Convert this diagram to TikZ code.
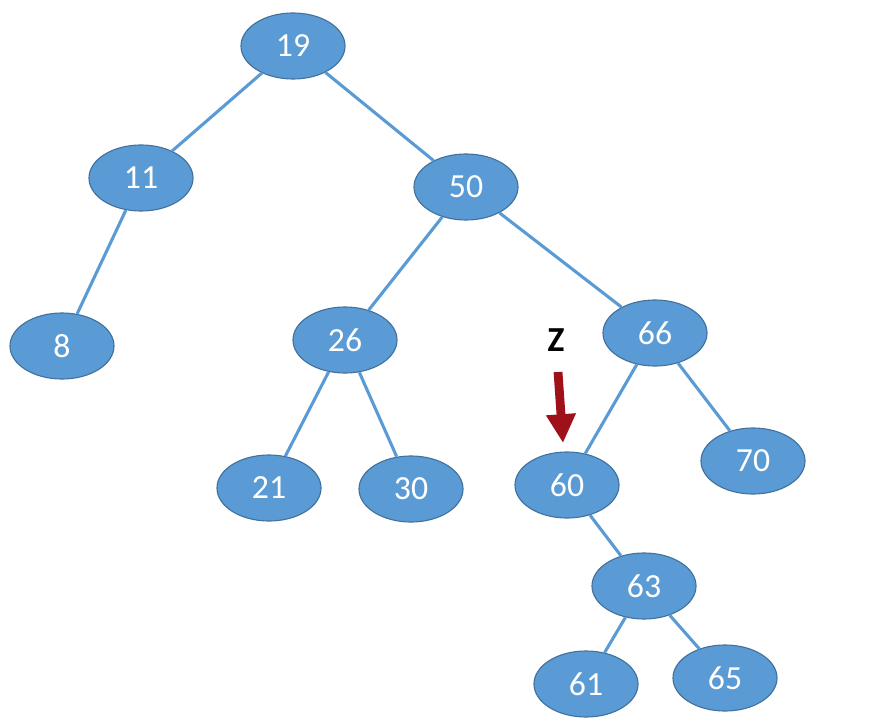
\documentclass[tikz,border=0pt]{standalone}
\usepackage{fontspec}
\usetikzlibrary{shapes.geometric, arrows.meta}
\newfontfamily\labfont{Carlito}
\definecolor{keyfill}{RGB}{91,155,213}
\definecolor{keyline}{RGB}{65,113,156}
\definecolor{zred}{RGB}{160,16,26}
\tikzset{
  key/.style   = {ellipse, draw=keyline, thick, fill=keyfill, text=white,
                  inner sep=0pt, minimum width=2.6cm, minimum height=1.65cm,
                  font=\labfont\fontsize{24}{28}\selectfont},
  link/.style  = {draw=keyfill, line width=2.2pt},
  % the pointer at the node being removed
  zptr/.style  = {zred, line width=0.22cm, -{Triangle[length=0.72cm, width=0.7cm]}},
  zlab/.style  = {font=\labfont\bfseries\fontsize{25}{28}\selectfont},
}
\begin{document}
\begin{tikzpicture}[x=0.025cm, y=-0.025cm]
\useasboundingbox (0,0) rectangle (895,722);
% keys at their places
\foreach \k/\x/\y in {19/293/46, 11/141/178, 50/466/187, 8/62/346,
                      26/345/340, 66/655/333, 21/269/488, 30/411/489,
                      60/567/485, 70/753/461, 63/644/586, 61/586/684,
                      65/725/678}
  \node[key] (k\k) at (\x,\y) {\k};
% parent -- child
\foreach \p/\c in {19/11, 19/50, 11/8, 50/26, 50/66, 26/21, 26/30,
                   66/60, 66/70, 60/63, 63/61, 63/65}
  \draw[link] (k\p) -- (k\c);
\node[zlab] (zname) at (556,340) {Z};
\coordinate (ztail) at (558,372);
\coordinate (ztip) at (563,443);
\draw[zptr] (ztail) -- (ztip);
\end{tikzpicture}
\end{document}
